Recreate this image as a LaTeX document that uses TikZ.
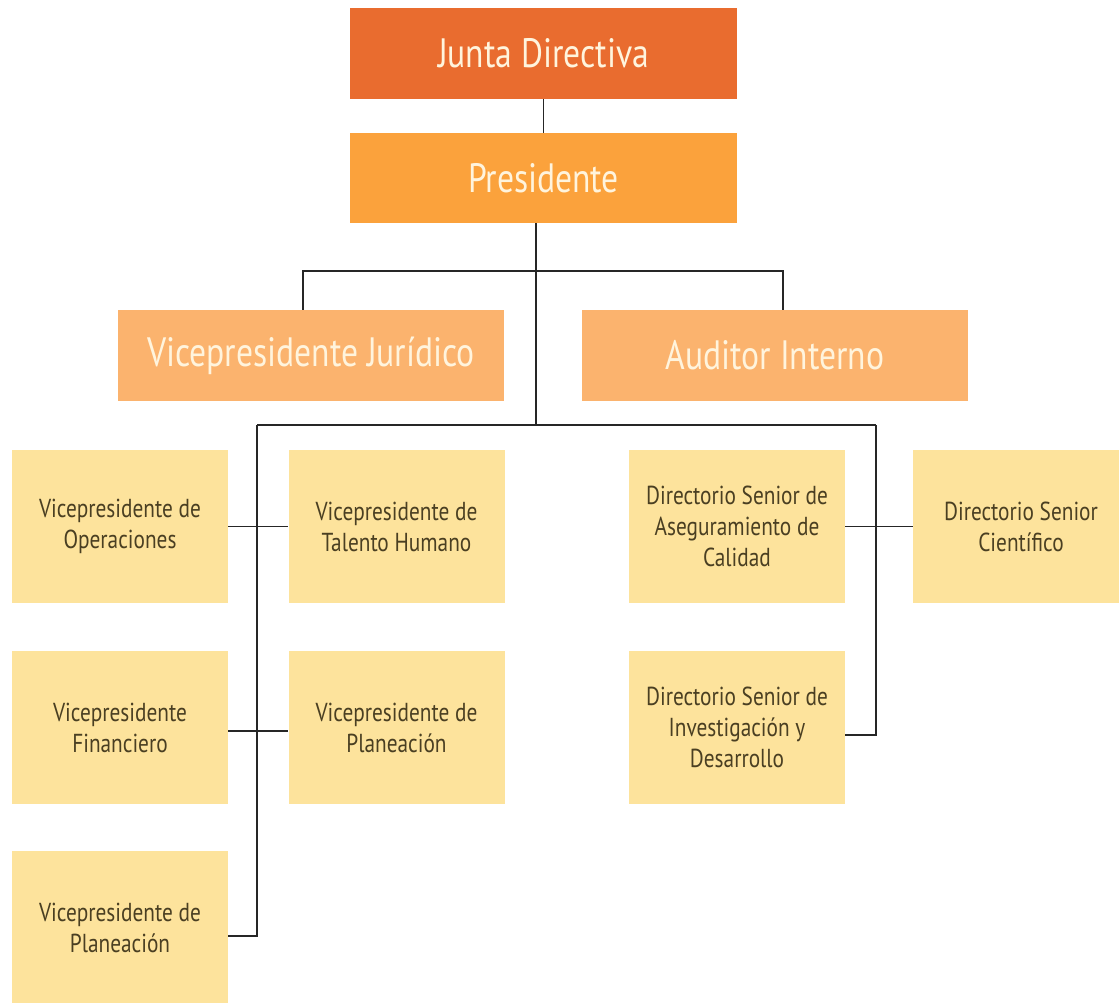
\documentclass[tikz,border=0pt]{standalone}
\usepackage{fontspec}
\setmainfont{PT Sans}[FakeStretch=0.82]
\usetikzlibrary{calc}
\definecolor{jdcol}{HTML}{E96C2F}
\definecolor{prescol}{HTML}{FBA23C}
\definecolor{vpcol}{HTML}{FBB36E}
\definecolor{ylw}{HTML}{FDE39C}
\definecolor{lighttxt}{HTML}{FFF4DD}
\definecolor{darktxt}{HTML}{4A3F22}
\tikzset{
  bigbox/.style={rectangle, inner sep=0pt, text=lighttxt, font=\fontsize{41}{46}\selectfont, minimum height=91pt},
  ybox/.style={rectangle, fill=ylw, inner sep=0pt, text=darktxt, align=center, font=\fontsize{26}{31}\selectfont, minimum width=216pt, minimum height=153pt},
  conn/.style={draw=black!85, line width=1.3pt}
}
\begin{document}
\begin{tikzpicture}[x=1pt,y=-1pt]
\useasboundingbox (0,0) rectangle (1119,1002);
\begin{scope}
\clip (0,0) rectangle (1119,1002);
\node[bigbox, fill=jdcol, minimum width=387pt] (jd) at (543.5,53.5) {Junta Directiva};
\node[bigbox, fill=prescol, minimum width=387pt, minimum height=90pt] (pres) at (543.5,178) {Presidente};
\node[bigbox, fill=vpcol, minimum width=386pt] (vj) at (311,355.5) {Vicepresidente Jurídico};
\node[bigbox, fill=vpcol, minimum width=386pt] (ai) at (775,355.5) {Auditor Interno};

\node[ybox] (op) at (120,526.5) {Vicepresidente de\\Operaciones};
\node[ybox] (th) at (396.5,526.5) {Vicepresidente de\\Talento Humano};
\node[ybox] (fin) at (120,727.5) {Vicepresidente\\Financiero};
\node[ybox] (plA) at (396.5,727.5) {Vicepresidente de\\Planeación};
\node[ybox] (plB) at (120,927.5) {Vicepresidente de\\Planeación};
\node[ybox] (asc) at (737,526.5) {Directorio Senior de\\Aseguramiento de\\Calidad};
\node[ybox] (cie) at (1021,526.5) {Directorio Senior\\Científico};
\node[ybox] (inv) at (737,727.5) {Directorio Senior de\\Investigación y\\Desarrollo};

\coordinate (trunk) at (536,425);
\coordinate (bL) at (303,271);
\coordinate (bR) at (783,271);
\coordinate (lowL) at (257,425);
\coordinate (lowR) at (876,425);

\draw[conn] (jd.south) -- (pres.north);
\draw[conn] (pres.south -| trunk) -- (trunk);
\draw[conn] (bL |- vj.north) -- (bL) -- (bR) -- (bR |- ai.north);
\draw[conn] (lowL) -- (lowR);
\draw[conn] (lowL) |- ($(plB.east)+(0,8.5)$);
\draw[conn] (lowR) |- ($(inv.east)+(0,7.5)$);
\draw[conn] (op.east) -- (th.west);
\draw[conn] ($(fin.east)+(0,3.5)$) -- ($(plA.west)+(0,3.5)$);
\draw[conn] (asc.east) -- (cie.west);
\end{scope}
\end{tikzpicture}
\end{document}
